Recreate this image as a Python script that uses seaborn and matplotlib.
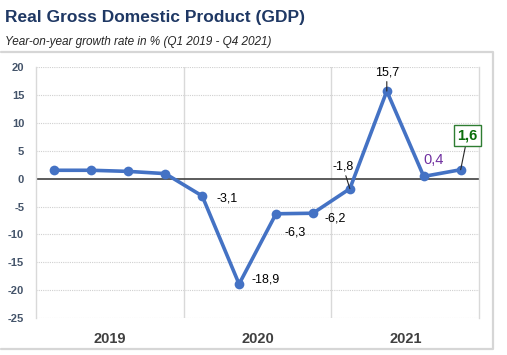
import matplotlib
matplotlib.use('Agg')
import matplotlib.pyplot as plt
import seaborn as sns
import pandas as pd

# quarterly real GDP growth, y/y %
quarters = ['Q1 2019', 'Q2 2019', 'Q3 2019', 'Q4 2019',
            'Q1 2020', 'Q2 2020', 'Q3 2020', 'Q4 2020',
            'Q1 2021', 'Q2 2021', 'Q3 2021', 'Q4 2021']
growth = [1.5, 1.5, 1.3, 0.9, -3.1, -18.9, -6.3, -6.2, -1.8, 15.7, 0.4, 1.6]
years = ['2019', '2020', '2021']
yticks = [20, 15, 10, 5, 0, -5, -10, -15, -20, -25]

df = pd.DataFrame({'idx': range(len(quarters)), 'quarter': quarters, 'growth': growth})

sns.set_style('white')
plt.rcParams['font.family'] = ['Liberation Sans', 'DejaVu Sans']

fig = plt.figure(figsize=(5.07, 3.55), dpi=100)
ax = fig.add_axes([0.071, 0.104, 0.874, 0.707])

sns.lineplot(data=df, x='idx', y='growth', color='#4472C4', linewidth=2.6,
             marker='o', markersize=7, markeredgewidth=0, ax=ax, zorder=3)

ax.set_xlim(-0.5, 11.5)
ax.set_ylim(-25, 20)
ax.set_yticks(yticks)
ax.set_yticklabels([str(t) for t in yticks], color='#44546A', fontsize=8, fontweight='bold')
ax.tick_params(axis='y', length=0, pad=8.5)

# year labels centred under each group of quarters
ax.set_xticks([1.5, 5.5, 9.5])
ax.set_xticklabels(years, fontsize=10.5, fontweight='bold', color='#404040')
ax.tick_params(axis='x', length=0, pad=10)
ax.set_xlabel('')
ax.set_ylabel('')

for y in yticks:
    if y != 0:
        ax.axhline(y, color='#D0D0D0', linewidth=0.8, linestyle=(0, (1, 1)), zorder=0)
ax.axhline(0, color='#404040', linewidth=1.2, zorder=1)
for x in [3.5, 7.5]:
    ax.axvline(x, color='#D9D9D9', linewidth=1, zorder=0)

for s in ['top', 'bottom']:
    ax.spines[s].set_visible(False)
for s in ['left', 'right']:
    ax.spines[s].set_color('#D9D9D9')
    ax.spines[s].set_linewidth(1)

lead = dict(arrowstyle='-', color='#262626', lw=0.8, shrinkA=0, shrinkB=0)

def lab(i, text, dx, dy, color='black', leader=False, size=9):
    ax.annotate(text, xy=(i, growth[i]), xytext=(dx, dy), textcoords='offset points',
                ha='center', va='center', fontsize=size, color=color,
                arrowprops=lead if leader else None)

fmt = lambda v: f'{v:.1f}'.replace('.', ',')
lab(4, fmt(growth[4]), 18, -1.5)
lab(5, fmt(growth[5]), 19, 3.5)
lab(6, fmt(growth[6]), 13.5, -13.5)
lab(7, fmt(growth[7]), 16, -3.5)
lab(8, fmt(growth[8]), -5, 16, leader=True)
lab(9, fmt(growth[9]), 0, 13.5, leader=True)
lab(10, fmt(growth[10]), 7, 11.5, color='#7030A0', size=10.5)
ax.annotate(fmt(growth[11]), xy=(11, growth[11]), xytext=(5, 24.5), textcoords='offset points',
            ha='center', va='center', fontsize=10.5, fontweight='bold', color='#0B6E0B',
            bbox=dict(boxstyle='square,pad=0.25', fc='white', ec='#2E7D32', lw=1),
            arrowprops=lead)

fig.text(0.01, 0.952, 'Real Gross Domestic Product (GDP)', fontsize=12.5, fontweight='bold',
         color='#1F3864', va='center')
fig.text(0.01, 0.883, 'Year-on-year growth rate in % (Q1 2019 - Q4 2021)', fontsize=8.5,
         style='italic', color='#262626', va='center')

# outer frame under the subtitle
fx0, fx1 = 0.002, 493 / 507
fy0, fy1 = 1 - 349 / 355, 1 - 52 / 355
fig.add_artist(plt.Line2D([fx0, fx1, fx1, fx0], [fy1, fy1, fy0, fy0], color='#D6D6D6', lw=1.6))

fig.savefig('out.png', dpi=100)
